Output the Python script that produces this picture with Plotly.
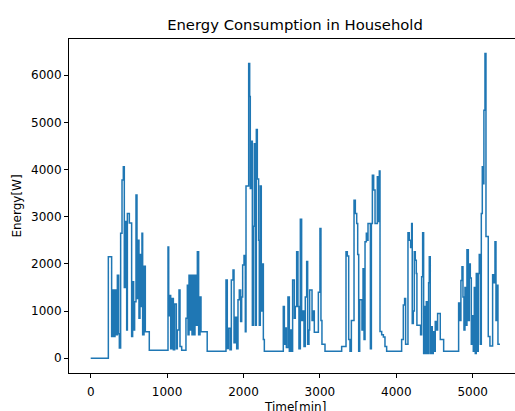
import plotly.graph_objects as go

# Breakpoints of the step signal (time in minutes, power in watts)
time_min = [
    0, 231, 274, 287, 305, 318, 331, 349, 366, 375, 392, 410, 427, 440, 453, 471, 480, 506,
    536, 549, 562, 575, 593, 606, 619, 632, 645, 663, 671, 680, 698, 715, 767,
    1012, 1021, 1034, 1047, 1064, 1082, 1099, 1121, 1134, 1156, 1169, 1191, 1247, 1265,
    1274, 1287, 1300, 1313, 1326, 1339, 1352, 1365, 1378, 1396, 1413, 1431, 1444, 1525,
    1771, 1788, 1801, 1823, 1841, 1863, 1876, 1893, 1911, 1928, 1945, 1963, 1976, 1989,
    2007, 2024, 2033, 2068, 2081, 2089, 2103, 2116, 2129, 2142, 2155, 2168, 2181, 2198,
    2207, 2220, 2233, 2247, 2260, 2273,
    2521, 2535, 2547, 2561, 2582, 2600, 2613, 2630, 2643, 2665, 2678, 2696, 2713, 2726,
    2744, 2761, 2779, 2792, 2809, 2827, 2840, 2857, 2866, 2897, 2914, 2927, 2980, 3001,
    3014, 3027, 3067,
    3285, 3342, 3359, 3377, 3394, 3412, 3447, 3464, 3482, 3495, 3508, 3521, 3551, 3565,
    3578, 3591, 3608, 3621, 3630, 3661, 3674, 3687, 3704, 3722, 3752, 3765, 3778, 3787,
    3809, 3831, 3852, 3874,
    4070, 4092, 4109, 4122, 4153, 4170, 4188, 4201, 4209, 4223, 4236, 4249, 4262, 4270,
    4318, 4332, 4345, 4358, 4371, 4380, 4393, 4406, 4423, 4432, 4445, 4458, 4471, 4484,
    4497, 4510, 4528, 4541, 4576, 4620,
    4816, 4833, 4846, 4860, 4873, 4886, 4899, 4912, 4925, 4943, 4956, 4969, 4982, 4995,
    5008, 5021, 5034, 5047, 5060, 5073, 5086, 5100, 5113, 5126, 5139, 5147, 5161, 5174,
    5204, 5226, 5261, 5274, 5292, 5305, 5318, 5331, 5357,
]
energy_w = [
    0, 2150, 460, 1450, 460, 1450, 500, 1760, 520, 220, 2650, 3780, 4060, 1500, 2900, 600, 3070, 2870,
    460, 1620, 600, 1200, 3460, 1270, 2500, 850, 2200, 1100, 2650, 500, 1950, 560, 170,
    2360, 900, 1330, 200, 1270, 180, 1150, 200, 600, 1450, 250, 170, 850, 1550,
    500, 1760, 600, 1760, 500, 1760, 500, 1760, 700, 2260, 500, 1300, 560, 150,
    1660, 210, 635, 180, 1660, 1870, 330, 870, 200, 1240, 1450, 780, 1300, 1980,
    2180, 560, 3650, 6250, 5550, 3600, 4600, 700, 2800, 4550, 700, 4850, 3800, 2500,
    700, 3650, 1000, 2000, 400, 150,
    1100, 300, 640, 230, 1300, 150, 600, 150, 1660, 850, 1100, 2260, 1100, 200,
    2950, 800, 1000, 250, 1300, 2050, 300, 600, 1450, 800, 1000, 550, 1400, 2750,
    800, 300, 150,
    250, 2260, 2170, 400, 150, 800, 3350, 3070, 2860, 2200, 150, 1240, 600, 1900,
    400, 2470, 2650, 2500, 2860, 200, 2860, 3880, 3570, 2860, 3850, 2900, 3970, 570,
    500, 450, 250, 150,
    400, 1130, 1270, 300, 2660, 2500, 2350, 2860, 740, 1000, 2260, 2080, 1800, 700,
    500, 1730, 2660, 100, 1100, 100, 1200, 100, 1600, 2150, 100, 670, 100, 560,
    150, 780, 600, 950, 400, 150,
    1170, 800, 1650, 1940, 1300, 600, 1500, 700, 2300, 800, 2000, 1700, 300, 900,
    150, 1500, 100, 1800, 150, 1800, 2200, 300, 3070, 4060, 3700, 5260, 6460, 2580,
    460, 260, 1770, 1600, 2470, 800, 1550, 300, 300,
]

x_ticks = [0, 1000, 2000, 3000, 4000, 5000]
y_ticks = [0, 1000, 2000, 3000, 4000, 5000, 6000]

fig = go.Figure(
    go.Scatter(
        x=time_min,
        y=energy_w,
        mode="lines",
        line=dict(color="#1f77b4", width=1.5, shape="hv"),
        hoverinfo="skip",
    )
)

axis_font = dict(family="DejaVu Sans", size=12, color="#000000")

fig.update_layout(
    width=515,
    height=411,
    margin=dict(l=69, r=0, t=39, b=38, autoexpand=False),
    paper_bgcolor="white",
    plot_bgcolor="white",
    showlegend=False,
    font=dict(family="DejaVu Sans", size=12, color="#000000"),
    title=dict(
        text="Energy Consumption in Household",
        x=295 / 515,
        xanchor="center",
        y=1 - 25 / 411,
        yanchor="middle",
        font=dict(family="DejaVu Sans", size=14.8, color="#000000"),
    ),
    xaxis=dict(
        range=[-284, 5554],
        tickvals=x_ticks,
        ticktext=[str(v) for v in x_ticks],
        ticks="outside",
        ticklen=4,
        tickwidth=1,
        tickcolor="#000000",
        ticklabelstandoff=4,
        showline=True,
        linecolor="#000000",
        linewidth=1,
        mirror=True,
        showgrid=False,
        zeroline=False,
        automargin=False,
        tickfont=axis_font,
    ),
    yaxis=dict(
        range=[-312, 6769],
        tickvals=y_ticks,
        ticktext=[str(v) for v in y_ticks],
        ticks="outside",
        ticklen=4,
        tickwidth=1,
        tickcolor="#000000",
        showline=True,
        linecolor="#000000",
        linewidth=1,
        mirror=False,
        showgrid=False,
        zeroline=False,
        automargin=False,
        tickfont=axis_font,
        title=dict(text="Energy[W]", font=axis_font, standoff=6),
    ),
    annotations=[
        dict(
            text="Time[min]",
            xref="paper",
            yref="paper",
            x=(295 - 69) / 446,
            y=-(407 - 373) / 334,
            xanchor="center",
            yanchor="middle",
            showarrow=False,
            font=axis_font,
        )
    ],
)

fig.write_html(
    "out.html",
    config={"displayModeBar": False, "staticPlot": True},
    post_script="document.body.style.margin='0';document.body.style.overflow='hidden';",
)
